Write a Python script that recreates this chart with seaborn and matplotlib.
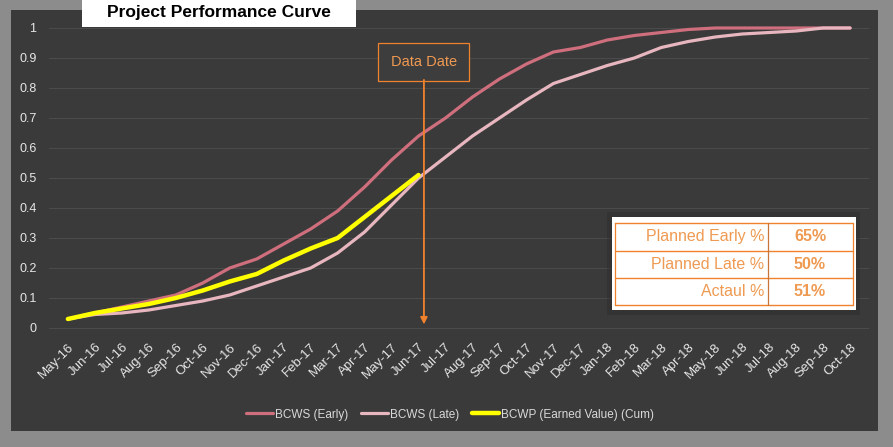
import matplotlib
matplotlib.use("Agg")
import matplotlib.pyplot as plt
from matplotlib.patches import Rectangle
from matplotlib.lines import Line2D
import seaborn as sns
import pandas as pd
import numpy as np

months = ["May-16", "Jun-16", "Jul-16", "Aug-16", "Sep-16", "Oct-16", "Nov-16", "Dec-16",
          "Jan-17", "Feb-17", "Mar-17", "Apr-17", "May-17", "Jun-17", "Jul-17", "Aug-17",
          "Sep-17", "Oct-17", "Nov-17", "Dec-17", "Jan-18", "Feb-18", "Mar-18", "Apr-18",
          "May-18", "Jun-18", "Jul-18", "Aug-18", "Sep-18", "Oct-18"]
bcws_early = [0.03, 0.05, 0.07, 0.09, 0.11, 0.15, 0.20, 0.23, 0.28, 0.33, 0.39, 0.47, 0.56,
              0.64, 0.70, 0.77, 0.83, 0.88, 0.92, 0.935, 0.96, 0.975, 0.985, 0.995, 1.0,
              1.0, 1.0, 1.0, 1.0, 1.0]
bcws_late = [0.03, 0.045, 0.05, 0.06, 0.075, 0.09, 0.11, 0.14, 0.17, 0.20, 0.25, 0.32, 0.41,
             0.50, 0.57, 0.64, 0.70, 0.76, 0.815, 0.845, 0.875, 0.90, 0.935, 0.955, 0.97,
             0.98, 0.985, 0.99, 1.0, 1.0]
bcwp = [0.03, 0.05, 0.065, 0.08, 0.10, 0.125, 0.155, 0.18, 0.225, 0.265, 0.30, 0.37, 0.44, 0.51]
series_names = ["BCWS (Early)", "BCWS (Late)", "BCWP (Earned Value) (Cum)"]
table_labels = ["Planned Early %", "Planned Late %", "Actaul %"]
table_values = ["65%", "50%", "51%"]
data_date_month = "Jun-17"

W, H = 893, 447
ORANGE = "#f0822e"
TXT_OR = "#ef9a52"

sns.set_theme(style="dark")
plt.rcParams["font.family"] = ["Liberation Sans", "DejaVu Sans"]

def fx(px):
    return px / W

def fy(py):
    return 1 - py / H

fig = plt.figure(figsize=(W / 100, H / 100), dpi=100, facecolor="#8c8c8c")
fig.add_artist(Rectangle((fx(11), fy(431)), fx(878) - fx(11), fy(10) - fy(431),
                         transform=fig.transFigure, facecolor="#3a3a3a",
                         edgecolor="none", zorder=-2))

ax = fig.add_axes([fx(49), fy(334), fx(869) - fx(49), fy(22) - fy(334)])
ax.set_facecolor("none")

x = np.arange(len(months))
df_e = pd.DataFrame({"x": x, "v": bcws_early})
df_l = pd.DataFrame({"x": x, "v": bcws_late})
df_p = pd.DataFrame({"x": x[:len(bcwp)], "v": bcwp})

sns.lineplot(data=df_e, x="x", y="v", ax=ax, color="#cf6f7d", linewidth=2.3,
             label=series_names[0], clip_on=False, zorder=3)
sns.lineplot(data=df_l, x="x", y="v", ax=ax, color="#e7b6bf", linewidth=2.3,
             label=series_names[1], clip_on=False, zorder=3)
sns.lineplot(data=df_p, x="x", y="v", ax=ax, color="#ffff00", linewidth=3.2,
             label=series_names[2], clip_on=False, zorder=4)

ax.set_xlim(-0.7, len(months) - 1 + 0.7)
ax.set_ylim(-0.02, 1.02)
ax.set_xticks(x)
ax.set_xticklabels(months, rotation=45, ha="right", va="top", rotation_mode="anchor",
                   color="#e6e6e6", fontsize=9.5)
yt = np.round(np.arange(0, 1.01, 0.1), 1)
ax.set_yticks(yt)
ax.set_yticklabels(["0" if v == 0 else ("1" if v == 1 else f"{v:g}") for v in yt],
                   color="#e6e6e6", fontsize=9)
ax.tick_params(axis="both", length=0)
ax.tick_params(axis="x", pad=5)
ax.tick_params(axis="y", pad=9)
ax.set_xlabel("")
ax.set_ylabel("")
ax.grid(axis="y", color="#4b4b4b", linewidth=0.8)
ax.grid(axis="x", visible=False)
for s in ax.spines.values():
    s.set_visible(False)

# data date marker
dd = months.index(data_date_month) + 0.2
ax.text(dd, 0.887, "Data Date", color=TXT_OR, fontsize=10.5, ha="center", va="center",
        bbox=dict(boxstyle="square,pad=0.85", facecolor="#3d3d3d", edgecolor=ORANGE,
                  linewidth=0.9), zorder=5)
ax.annotate("", xy=(dd, 0.012), xytext=(dd, 0.827),
            arrowprops=dict(arrowstyle="-|>", color=ORANGE, lw=1.3, mutation_scale=10,
                            shrinkA=0, shrinkB=0), zorder=5)

# legend
leg = ax.legend(loc="upper center", bbox_to_anchor=(fx(450), fy(398)), ncol=3,
                frameon=False, fontsize=8.5, handlelength=2.3, handletextpad=0.15,
                columnspacing=1.1, bbox_transform=fig.transFigure)
for t in leg.get_texts():
    t.set_color("#d9d9d9")

# title box
fig.add_artist(Rectangle((fx(82), fy(27)), fx(356) - fx(82), fy(0) - fy(27),
                         transform=fig.transFigure, facecolor="white", edgecolor="none",
                         zorder=6))
fig.text(fx(219), fy(12), "Project Performance Curve", fontsize=12.5, fontweight="bold",
         color="black", ha="center", va="center", zorder=7)

# table
fig.add_artist(Rectangle((fx(607), fy(315)), fx(860) - fx(607), fy(212) - fy(315),
                         transform=fig.transFigure, facecolor="#2a2a2a", edgecolor="none",
                         alpha=0.4, zorder=6))
fig.add_artist(Rectangle((fx(612), fy(310)), fx(856) - fx(612), fy(217) - fy(310),
                         transform=fig.transFigure, facecolor="white", edgecolor="none",
                         zorder=7))
row_y = [223, 250.5, 278, 305]
for yy in row_y:
    fig.add_artist(Line2D([fx(615), fx(853)], [fy(yy), fy(yy)], transform=fig.transFigure,
                          color=ORANGE, lw=1.0, zorder=8))
for xx, col in [(615, ORANGE), (768, "#c8753a"), (853, ORANGE)]:
    fig.add_artist(Line2D([fx(xx), fx(xx)], [fy(223), fy(305)], transform=fig.transFigure,
                          color=col, lw=0.9, zorder=8))
for i, (lab, val) in enumerate(zip(table_labels, table_values)):
    yc = (row_y[i] + row_y[i + 1]) / 2
    fig.text(fx(764), fy(yc), lab, color=TXT_OR, fontsize=11.5, ha="right", va="center",
             zorder=9)
    fig.text(fx(810), fy(yc), val, color=TXT_OR, fontsize=11.5, fontweight="bold",
             ha="center", va="center", zorder=9)

fig.savefig("out.png", dpi=100, facecolor=fig.get_facecolor())
